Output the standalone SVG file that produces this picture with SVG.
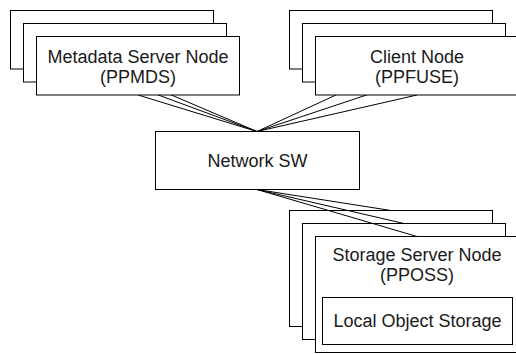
<svg xmlns="http://www.w3.org/2000/svg" width="516" height="354" viewBox="0 0 516 354">
<style>
.box{fill:#fff;stroke:#000;stroke-width:1}
.t{font-family:"Liberation Sans",Arial,sans-serif;font-size:18px;fill:#1a1a1a;text-anchor:middle}
.c{stroke:#000;stroke-width:1;fill:none}
</style>
<rect width="516" height="354" fill="#fff"/>
<g id="storage">
<rect class="box" x="289.5" y="210.5" width="203" height="116"/>
<rect class="box" x="302.5" y="223.5" width="203" height="116"/>
<rect class="box" x="315.5" y="236.5" width="203" height="116"/>
<text class="t" x="417" y="261">Storage Server Node</text>
<text class="t" x="417" y="281">(PPOSS)</text>
</g>
<g id="local-storage">
<rect class="box" x="322.5" y="297.5" width="190" height="47"/>
<text class="t" x="417.5" y="327">Local Object Storage</text>
</g>
<g id="connectors">
<line class="c" x1="111.5" y1="69.5" x2="257" y2="131.5"/>
<line class="c" x1="124.5" y1="82.5" x2="257" y2="131.5"/>
<line class="c" x1="138" y1="95" x2="257" y2="131.5"/>
<line class="c" x1="391" y1="69.5" x2="257" y2="131.5"/>
<line class="c" x1="404" y1="82.5" x2="257" y2="131.5"/>
<line class="c" x1="417" y1="95" x2="257" y2="131.5"/>
<line class="c" x1="257" y1="189.5" x2="391" y2="210.5"/>
<line class="c" x1="257" y1="189.5" x2="404" y2="223.5"/>
<line class="c" x1="257" y1="189.5" x2="417" y2="236.5"/>
</g>
<g id="metadata">
<rect class="box" x="10.5" y="10.5" width="203" height="58.5"/>
<rect class="box" x="23.5" y="23.5" width="203" height="58.5"/>
<rect class="box" x="36.5" y="36.5" width="203" height="58.5"/>
<text class="t" x="138" y="63">Metadata Server Node</text>
<text class="t" x="138" y="83">(PPMDS)</text>
</g>
<g id="client">
<rect class="box" x="289.5" y="10.5" width="203" height="58.5"/>
<rect class="box" x="302.5" y="23.5" width="203" height="58.5"/>
<rect class="box" x="315.5" y="36.5" width="203" height="58.5"/>
<text class="t" x="417" y="63">Client Node</text>
<text class="t" x="417" y="83">(PPFUSE)</text>
</g>
<g id="network">
<rect class="box" x="155.5" y="131.5" width="204" height="58"/>
<text class="t" x="257.5" y="167">Network SW</text>
</g>
</svg>
